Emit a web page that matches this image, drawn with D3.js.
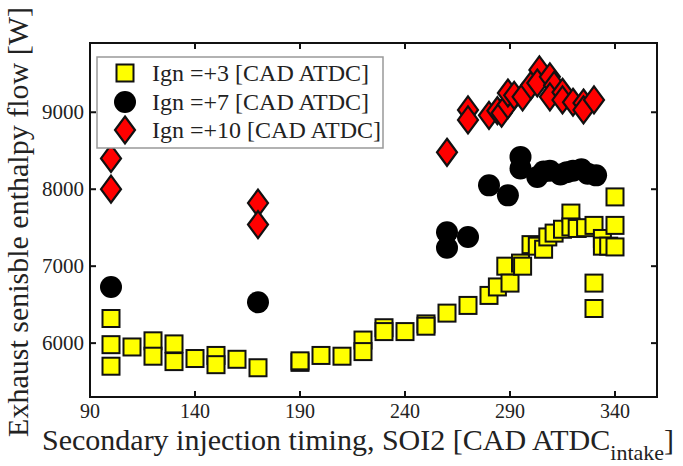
<!DOCTYPE html>
<html>
<head>
<meta charset="utf-8">
<script src="https://cdn.jsdelivr.net/npm/d3@7"></script>
<style>
  body { margin: 0; background: #fff; }
  svg { display: block; }
  text { font-family: "Liberation Serif", "DejaVu Serif", serif; fill: #222; }
</style>
</head>
<body>
<svg id="chart"></svg>
<script>
// Ign = +3 (squares), [SOI2, enthalpy flow]
const ign3 = [
  [100, 6320], [100, 5980], [100, 5700], [110, 5950], [120, 6030], [120, 5830],
  [130, 5990], [130, 5760], [140, 5800], [150, 5840], [150, 5720], [160, 5790],
  [170, 5680], [190, 5750], [190, 5770], [200, 5840], [210, 5830], [220, 6040],
  [220, 5890], [230, 6200], [230, 6150], [240, 6150], [250, 6250], [250, 6220],
  [260, 6390], [270, 6490], [280, 6620], [284, 6730], [288, 7000], [290, 6780],
  [295, 7040], [296, 7000], [300, 7280], [303, 7260], [306, 7220], [308, 7380],
  [311, 7430], [315, 7480], [319, 7690], [319, 7510], [322, 7490], [326, 7500],
  [330, 7530], [330, 6780], [330, 6450], [334, 7360], [334, 7260], [337, 7260],
  [340, 7900], [340, 7530], [340, 7250]
];
// Ign = +7 (circles)
const ign7 = [
  [100, 6730], [170, 6530], [260, 7440], [260, 7240], [270, 7380], [280, 8050],
  [289, 7920], [295, 8420], [295, 8270], [303, 8160], [306, 8230], [309, 8240],
  [314, 8190], [317, 8220], [320, 8240], [324, 8260], [327, 8200], [331, 8180]
];
// Ign = +10 (diamonds)
const ign10 = [
  [100, 8400], [100, 8000], [170, 7820], [170, 7540], [260, 8480], [270, 9030],
  [270, 8900], [280, 8960], [284, 9020], [286, 8990], [289, 9100], [289, 9250],
  [292, 9220], [296, 9200], [300, 9350], [304, 9550], [303, 9380], [309, 9460],
  [311, 9350], [309, 9200], [315, 9260], [315, 9160], [320, 9130], [325, 9120],
  [325, 9030], [330, 9160]
];
const xTicks = [90, 140, 190, 240, 290, 340];
const yTicks = [6000, 7000, 8000, 9000];
const legendLabels = ["Ign =+3 [CAD ATDC]", "Ign =+7 [CAD ATDC]", "Ign =+10 [CAD ATDC]"];

const width = 683, height = 466;
const margin = { left: 90, right: 26, top: 43, bottom: 69 };

const svg = d3.select("#chart").attr("width", width).attr("height", height);

const x = d3.scaleLinear().domain([90, 360]).range([margin.left, width - margin.right]);
const y = d3.scaleLinear().domain([5300, 9900]).range([height - margin.bottom, margin.top]);

const x0 = x.range()[0], x1 = x.range()[1], y0 = y.range()[0], y1 = y.range()[1];

// marker shapes
const sq = 17;
const diamond = "M0,-13.5L10,0L0,13.5L-10,0Z";

const drawSquare = (g, cx, cy) => g.append("rect")
  .attr("x", cx - sq / 2).attr("y", cy - sq / 2)
  .attr("width", sq).attr("height", sq)
  .attr("fill", "#ffff00").attr("stroke", "#111").attr("stroke-width", 2);
const drawCircle = (g, cx, cy) => g.append("circle")
  .attr("cx", cx).attr("cy", cy).attr("r", 11).attr("fill", "#000");
const drawDiamond = (g, cx, cy) => g.append("path")
  .attr("d", diamond).attr("transform", `translate(${cx},${cy})`)
  .attr("fill", "#ff0000").attr("stroke", "#111").attr("stroke-width", 2.2)
  .attr("stroke-linejoin", "miter");

const pts = svg.append("g");
ign3.forEach(d => drawSquare(pts, x(d[0]), y(d[1])));
ign7.forEach(d => drawCircle(pts, x(d[0]), y(d[1])));
ign10.forEach(d => drawDiamond(pts, x(d[0]), y(d[1])));

// axes box with inward ticks on all sides
const ax = svg.append("g").attr("stroke", "#111").attr("stroke-width", 2);
ax.append("rect").attr("x", x0).attr("y", y1).attr("width", x1 - x0).attr("height", y0 - y1)
  .attr("fill", "none");
xTicks.forEach(t => {
  ax.append("line").attr("x1", x(t)).attr("x2", x(t)).attr("y1", y0).attr("y2", y0 - 6);
  ax.append("line").attr("x1", x(t)).attr("x2", x(t)).attr("y1", y1).attr("y2", y1 + 6);
});
yTicks.forEach(t => {
  ax.append("line").attr("x1", x0).attr("x2", x0 + 6).attr("y1", y(t)).attr("y2", y(t));
  ax.append("line").attr("x1", x1).attr("x2", x1 - 6).attr("y1", y(t)).attr("y2", y(t));
});

svg.selectAll(".xtick").data(xTicks).enter().append("text")
  .attr("x", d => x(d)).attr("y", y0 + 21)
  .attr("text-anchor", "middle").style("font-size", "20px")
  .text(d => d);
svg.selectAll(".ytick").data(yTicks).enter().append("text")
  .attr("x", x0 - 6).attr("y", d => y(d) + 7)
  .attr("text-anchor", "end").style("font-size", "21px")
  .text(d => d);

// axis titles
const xt = svg.append("text")
  .attr("x", 42).attr("y", 450)
  .style("font-size", "30px");
xt.append("tspan").text("Secondary injection timing, SOI2 [CAD ATDC");
xt.append("tspan").attr("dy", 10).style("font-size", "22px").text("intake");
xt.append("tspan").attr("dy", -10).text("]");

svg.append("text")
  .attr("transform", "translate(28, 222) rotate(-90)")
  .attr("text-anchor", "middle")
  .style("font-size", "30px")
  .text("Exhaust senisble enthalpy flow [W]");

// legend
const lg = svg.append("g");
lg.append("rect").attr("x", 97).attr("y", 57).attr("width", 286).attr("height", 91)
  .attr("fill", "#fff").attr("stroke", "#999").attr("stroke-width", 1.5);
const rowY = [73, 102, 130];
drawSquare(lg, 125, rowY[0]);
drawCircle(lg, 125, rowY[1]);
drawDiamond(lg, 125, rowY[2]);
lg.selectAll(".lt").data(legendLabels).enter().append("text")
  .attr("x", 152).attr("y", (d, i) => rowY[i] + 8)
  .style("font-size", "24px")
  .text(d => d);
</script>
</body>
</html>
